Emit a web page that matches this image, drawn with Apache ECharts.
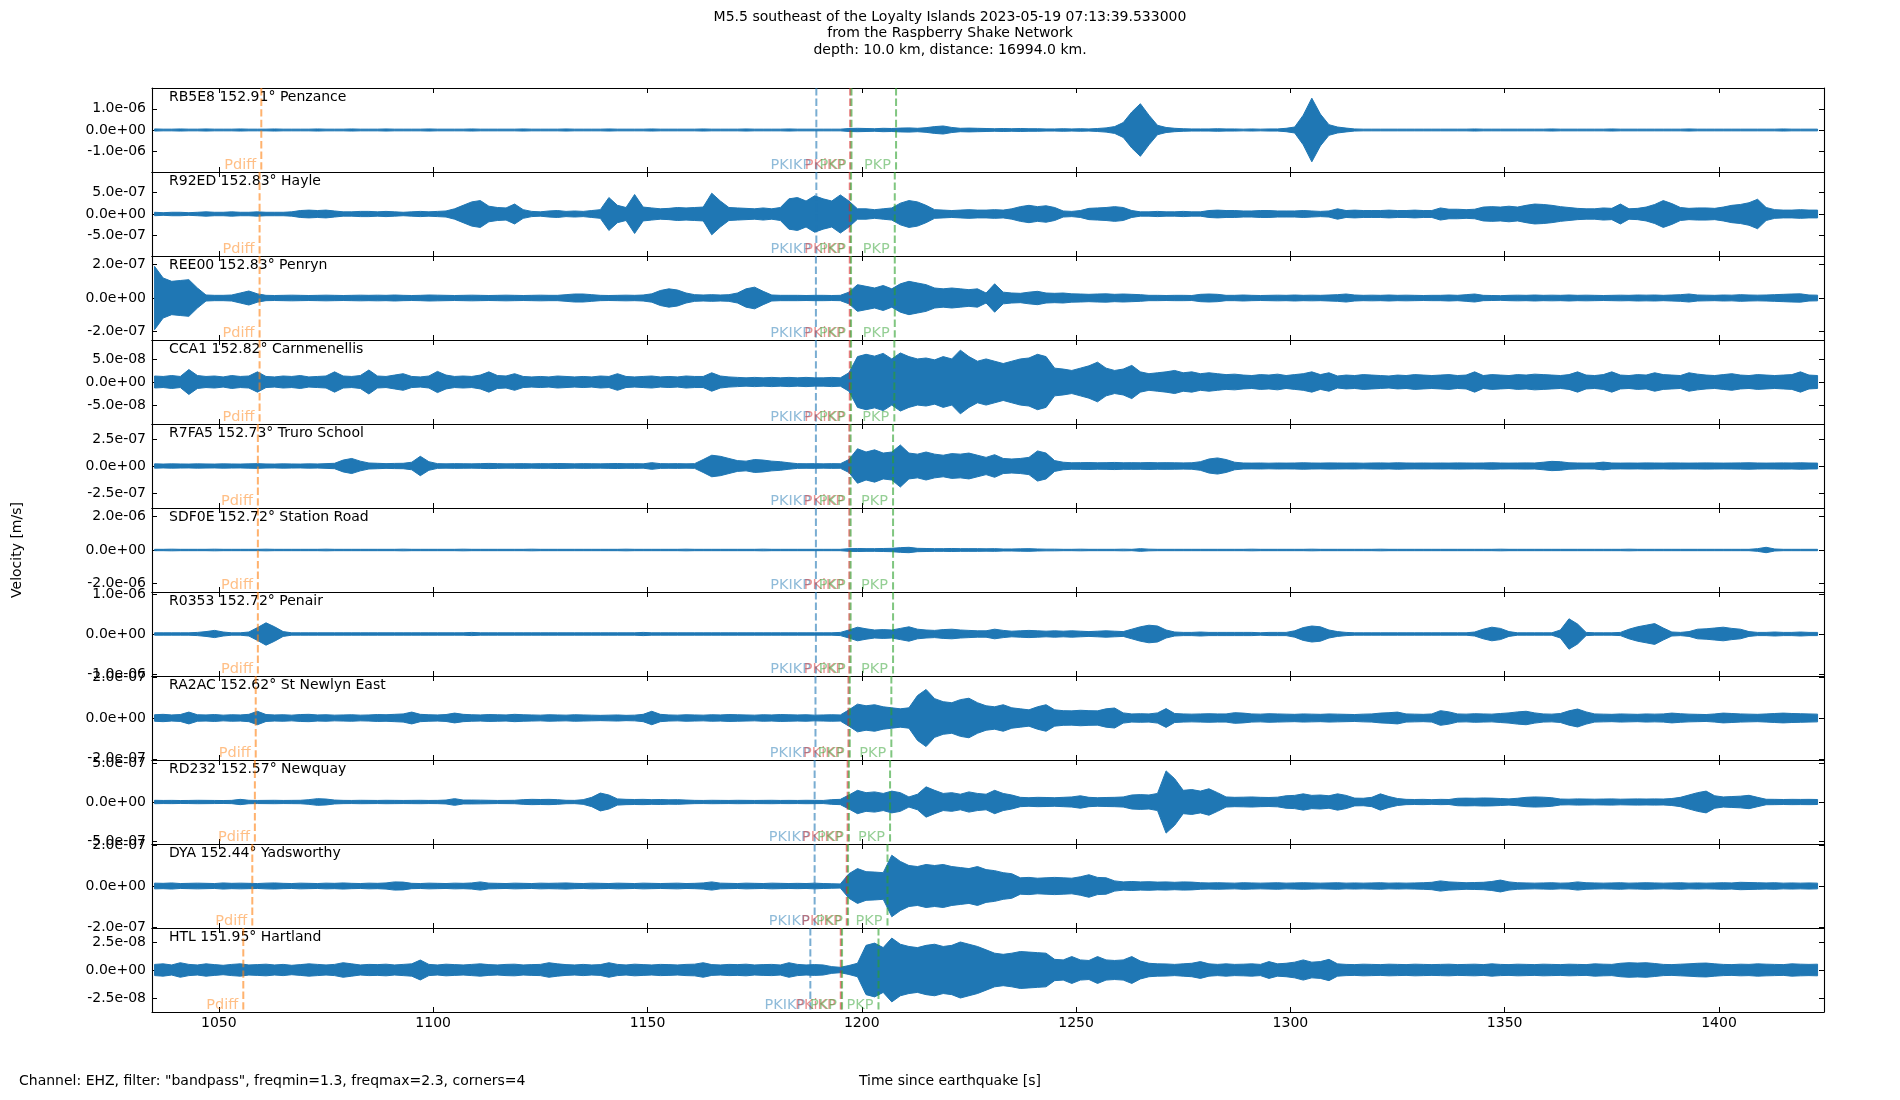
<!DOCTYPE html>
<html lang="en">
<head>
<meta charset="utf-8">
<title>M5.5 southeast of the Loyalty Islands - Raspberry Shake record section</title>
<script src="https://cdn.jsdelivr.net/npm/echarts@6/dist/echarts.min.js"></script>
<style>
  html, body { margin: 0; padding: 0; background: #fff; }
  #chart { width: 1900px; height: 1100px; }
</style>
</head>
<body>
<div id="chart"></div>
<script type="text/javascript">
  // stations, top to bottom
  const stationCodes = ['RB5E8', 'R92ED', 'REE00', 'CCA1', 'R7FA5', 'SDF0E', 'R0353', 'RA2AC', 'RD232', 'DYA', 'HTL'];
  const stationDist = [152.91, 152.83, 152.83, 152.82, 152.73, 152.72, 152.72, 152.62, 152.57, 152.44, 151.95];
  const stationNames = ['Penzance', 'Hayle', 'Penryn', 'Carnmenellis', 'Truro School', 'Station Road',
                        'Penair', 'St Newlyn East', 'Newquay', 'Yadsworthy', 'Hartland'];

  // y half-range of each panel and its tick step [m/s]
  const yLimits = [1.98e-6, 9.7e-7, 2.52e-7, 9.1e-8, 3.9e-7, 2.5e-6, 1.05e-6, 2.06e-7, 5.4e-7, 2.05e-7, 3.75e-8];
  const yTickSteps = [1e-6, 5e-7, 2e-7, 5e-8, 2.5e-7, 2e-6, 1e-6, 2e-7, 5e-7, 2e-7, 2.5e-8];

  // x axis [s since origin]
  const xMin = 1034.4, xMax = 1424.5;
  const xTicks = [1050, 1100, 1150, 1200, 1250, 1300, 1350, 1400];

  // trace envelopes (peak amplitude) read every 2 s from 1035 s, in ampUnits[k] m/s
  const sampleStart = 1035, sampleStep = 2;
  const ampUnits = [1e-8, 1e-8, 1e-9, 1e-9, 1e-9, 1e-8, 1e-8, 1e-9, 1e-9, 1e-9, 1e-10];

  const envPenzance = [
    5,4,4,5,4,4,5,4,4,4,5,4,4,4,5,4,4,4,4,5,4,4,4,5,4,          // 1035-1083
    4,4,5,4,4,4,4,5,4,4,4,4,5,4,4,4,4,4,5,4,4,4,4,5,4,          // 1085-1133
    4,4,4,5,4,4,4,4,5,4,4,4,4,4,5,4,4,4,4,5,4,4,4,4,5,          // 1135-1183
    4,4,4,4,4,4,7,8,7,6,8,7,9,10,8,11,16,19,12,8,9,8,7,6,7,     // 1185-1233
    6,7,6,6,5,5,6,5,6,5,7,10,16,35,85,124,70,22,12,8,6,5,5,5,6, // 1235-1283
    5,5,4,5,4,5,5,8,14,70,150,75,25,14,9,5,4,4,4,4,4,4,4,4,4,   // 1285-1333
    4,4,4,4,5,4,4,4,4,4,4,4,4,5,4,4,4,4,4,4,5,4,4,4,4,          // 1335-1383
    4,4,4,4,5,4,4,4,4,4,4,4,4,4,4,5,4,4,4,4                     // 1385-1423
  ];
  const envHayle = [
    4,3,4,4,3,4,5,4,4,5,4,4,5,4,4,4,5,8,9,8,9,7,5,5,6,
    6,5,6,5,4,5,6,5,6,7,12,20,28,31,18,15,14,23,10,6,5,7,8,6,7,
    6,8,10,38,20,15,45,16,14,12,13,15,14,15,16,48,30,15,14,13,12,14,12,15,35,
    38,30,42,35,30,44,30,12,12,10,12,14,25,31,28,20,10,9,8,9,10,9,9,10,9,
    12,17,20,17,19,15,7,6,8,13,14,15,17,15,8,5,5,6,5,5,6,5,5,8,9,
    8,8,7,7,8,8,7,7,7,8,7,6,7,12,8,9,8,8,8,9,8,8,9,8,8,
    14,11,11,10,11,16,17,16,18,16,20,23,22,20,17,15,13,12,12,14,13,23,12,13,16,
    22,31,24,15,13,14,14,13,16,20,22,26,34,15,10,9,9,10,9,9
  ];
  const envPenryn = [
    190,120,100,105,110,60,18,16,16,18,30,42,25,16,15,16,17,16,15,16,17,16,15,16,17,
    16,17,16,18,16,15,16,18,17,16,15,16,17,16,15,16,17,16,15,16,17,16,16,20,24,
    24,20,16,15,16,17,16,18,25,45,55,48,30,20,18,20,18,20,30,55,65,40,18,16,16,
    16,15,16,16,15,16,35,80,70,60,75,55,85,100,90,80,60,55,60,55,50,55,30,85,35,
    30,28,35,40,30,28,30,25,24,22,24,25,22,24,22,20,16,16,15,16,16,15,22,24,22,
    16,16,18,16,15,16,17,16,18,16,17,16,18,20,24,18,16,17,16,18,16,17,16,15,16,
    16,18,16,20,24,16,15,14,16,17,16,18,16,17,16,18,16,17,16,15,16,17,16,18,17,
    18,16,18,20,24,18,17,16,18,17,20,18,17,18,20,22,24,25,18,17
  ];
  const envCarnmenellis = [
    13,12,14,12,27,14,12,13,11,14,12,13,22,12,11,13,12,14,11,12,13,22,13,12,14,
    26,13,12,15,18,12,11,13,23,15,12,13,12,15,22,14,13,18,12,11,12,11,13,12,11,
    12,11,13,12,18,12,11,12,13,11,12,11,13,12,12,20,13,11,10,9,10,9,10,9,10,
    9,10,9,9,10,9,20,55,60,56,62,50,63,55,50,52,48,55,50,69,55,45,50,45,40,
    45,50,52,60,55,30,28,25,30,35,43,30,25,28,36,22,18,20,22,25,20,22,18,20,18,
    16,17,15,14,16,15,17,14,16,18,22,16,20,13,15,14,16,15,14,13,15,14,16,15,14,
    15,16,14,15,22,14,16,15,14,16,15,17,16,15,14,16,22,15,14,16,22,15,14,16,15,
    20,16,15,14,20,17,15,14,16,18,15,14,16,15,14,15,16,22,15,14
  ];
  const envTruro = [
    20,18,20,19,18,20,19,18,20,19,18,20,22,19,18,20,19,18,20,19,22,25,55,70,45,
    28,25,22,24,25,35,90,40,22,20,22,21,20,22,24,22,20,21,22,20,22,21,23,22,20,
    22,21,20,22,23,21,22,20,31,22,21,22,20,22,60,100,90,70,50,45,60,55,45,40,30,
    22,21,22,20,22,21,60,160,130,150,120,130,195,120,110,130,110,100,115,110,120,100,80,105,70,
    65,70,80,140,120,50,35,30,31,32,30,31,33,30,31,30,32,30,31,30,29,30,40,65,75,
    60,35,28,27,28,26,28,27,28,30,28,27,29,28,27,28,26,28,29,27,30,28,27,28,27,
    28,27,29,28,27,28,30,28,27,28,29,28,35,43,40,30,28,27,28,36,28,27,28,27,29,
    28,27,29,28,27,28,29,28,27,28,29,30,28,27,28,29,28,30,28,27
  ];
  const envStationRoad = [
    4,4,5,4,4,4,4,5,4,4,4,4,4,5,4,4,4,4,4,4,5,4,4,4,4,
    4,4,4,4,5,4,4,4,4,4,4,5,4,4,4,4,4,4,4,5,4,4,4,4,4,
    4,4,4,4,4,5,4,4,4,4,4,4,5,4,4,4,4,4,4,4,4,5,4,4,4,
    4,4,4,4,4,4,8,9,8,8,9,10,14,16,10,9,8,8,9,8,8,8,7,8,6,
    6,7,8,6,5,5,4,4,5,4,4,4,4,5,4,8,5,4,4,4,4,4,4,4,4,
    4,4,4,5,4,4,4,4,4,4,5,4,4,4,4,4,4,4,5,4,4,4,4,4,4,
    4,4,4,4,4,4,4,5,4,4,4,4,4,4,4,4,4,4,4,4,4,4,5,4,4,
    4,4,4,4,4,4,4,4,4,4,4,4,8,16,6,4,4,4,4,4
  ];
  const envPenair = [
    3,3,3,3,3,4,6,9,5,3,3,5,16,28,18,6,3,3,3,3,3,3,3,3,3,
    3,3,3,3,3,3,3,3,3,3,3,3,4,3,3,3,3,3,3,3,3,3,3,3,3,
    3,3,3,3,3,3,3,4,3,3,3,3,3,3,3,3,3,3,3,3,3,3,3,3,3,
    3,3,3,3,3,4,10,17,13,10,11,10,14,18,12,10,9,11,12,10,9,8,8,12,9,
    7,8,9,8,7,8,7,8,7,6,7,8,7,6,12,18,22,20,10,5,4,4,5,4,4,
    4,4,4,4,3,4,4,4,8,16,20,18,10,6,4,3,3,3,3,3,3,3,3,3,3,
    3,3,3,3,5,12,17,14,6,3,3,3,3,3,10,38,25,4,3,3,3,4,12,18,22,
    26,15,5,4,6,12,13,15,17,14,12,6,4,4,5,4,4,5,4,4
  ];
  const envStNewlyn = [
    16,18,15,17,29,16,15,17,14,16,15,18,33,17,15,16,14,17,18,15,16,14,15,16,14,
    15,17,16,18,20,29,18,16,15,17,24,18,16,15,17,16,15,18,16,15,14,16,15,14,16,
    15,14,13,14,15,13,14,18,33,18,15,14,16,15,14,16,15,17,16,15,14,16,15,17,16,
    15,16,14,15,16,15,40,68,60,65,55,50,45,50,110,140,95,80,75,90,97,75,60,55,65,
    50,45,40,55,65,40,36,35,38,36,35,45,49,25,20,21,20,25,46,22,20,19,20,21,20,
    20,26,24,20,19,21,20,19,18,20,19,18,20,19,18,17,19,20,24,26,29,20,19,18,20,
    36,30,20,19,21,20,19,22,25,30,33,25,20,19,22,35,44,30,20,19,18,20,19,18,20,
    19,20,24,21,19,18,17,20,24,22,20,19,18,20,22,24,22,21,20,19
  ];
  const envNewquay = [
    22,20,21,19,20,22,21,20,19,21,34,22,20,21,22,20,21,22,30,43,38,25,21,20,22,
    21,20,22,21,20,21,22,20,21,25,43,25,25,24,22,20,21,22,30,34,32,34,30,22,21,
    30,60,115,90,40,34,32,34,30,32,28,30,25,21,20,22,21,20,22,21,20,21,22,20,21,
    20,22,21,20,30,34,90,150,120,130,110,140,120,65,100,195,150,110,120,100,130,110,100,150,110,
    90,60,55,60,58,55,60,65,80,60,55,58,60,65,90,95,90,110,400,300,150,160,140,170,120,
    65,60,62,65,60,58,62,80,85,105,85,90,80,105,85,50,48,60,105,70,45,34,32,34,30,
    34,32,48,50,48,52,50,45,40,48,60,65,62,55,38,36,40,38,36,38,40,36,38,40,38,
    40,38,45,60,90,120,140,80,65,70,75,86,60,35,34,32,34,33,34,32
  ];
  const envYadsworthy = [
    14,13,15,12,13,14,13,12,15,13,14,13,12,14,15,13,12,14,13,12,14,13,15,13,12,
    14,13,15,20,19,13,12,14,13,12,14,13,15,20,14,13,12,14,13,12,14,13,14,15,13,
    12,14,13,12,14,13,12,14,13,12,13,14,12,13,15,20,14,13,12,14,13,12,14,13,12,
    13,12,14,12,11,10,60,85,70,68,65,150,120,100,95,105,100,105,95,90,85,95,80,75,65,
    60,40,42,38,40,42,40,38,45,55,42,40,25,20,22,20,21,19,20,18,20,19,16,15,16,
    15,14,16,15,14,15,16,14,15,16,15,14,15,16,14,15,14,15,16,14,15,14,15,16,18,
    25,20,18,16,17,18,22,29,20,16,15,14,15,16,14,15,20,16,15,14,15,16,14,15,16,
    15,14,15,16,14,15,14,15,16,15,18,17,16,15,16,14,15,14,15,14
  ];
  const envHartland = [
    50,55,45,65,50,45,55,48,42,50,55,45,48,52,45,50,42,48,55,50,45,50,65,55,45,
    50,48,52,45,50,55,89,50,45,52,48,45,50,55,48,45,50,52,45,48,50,65,55,48,45,
    50,45,48,65,50,45,52,48,45,50,48,45,50,52,65,48,45,50,48,52,45,48,50,45,65,
    50,45,48,45,30,24,40,60,220,240,200,285,230,210,200,220,230,210,220,250,230,210,180,150,140,
    150,165,160,155,150,95,90,120,90,85,120,90,85,90,120,80,60,55,54,50,55,60,75,55,50,
    55,50,52,55,50,75,55,60,70,90,70,75,95,55,50,48,52,50,48,52,50,48,52,50,48,
    50,52,48,50,52,48,55,50,48,52,50,48,52,50,48,52,50,48,55,52,50,60,65,62,65,
    58,50,48,52,55,60,62,55,50,48,52,50,55,52,50,48,55,52,50,52
  ];
  const envelopes = [envPenzance, envHayle, envPenryn, envCarnmenellis, envTruro, envStationRoad,
                     envPenair, envStNewlyn, envNewquay, envYadsworthy, envHartland];

  // predicted arrivals per station [s]
  const phaseNames = ['Pdiff', 'PKIKP', 'PKiKP', 'PKP', 'PKP'];
  const phaseColors = ['#ff7f0e', '#1f77b4', '#d62728', '#2ca02c', '#2ca02c'];
  const arrPdiff = [1059.9, 1059.5, 1059.5, 1059.5, 1059.1, 1059.1, 1059.1, 1058.6, 1058.4, 1057.8, 1055.7];
  const arrPKIKP = [1189.4, 1189.4, 1189.3, 1189.3, 1189.3, 1189.3, 1189.3, 1189.2, 1189.0, 1189.0, 1188.0];
  const arrPKiKP = [1197.3, 1197.2, 1197.2, 1197.2, 1197.1, 1197.1, 1197.1, 1196.9, 1196.7, 1196.5, 1195.1];
  const arrPKPa  = [1197.6, 1197.5, 1197.5, 1197.5, 1197.4, 1197.4, 1197.4, 1197.2, 1197.0, 1196.8, 1195.4];
  const arrPKPb  = [1208.0, 1207.7, 1207.7, 1207.6, 1207.3, 1207.3, 1207.3, 1206.9, 1206.6, 1206.0, 1203.9];
  const arrivals = [arrPdiff, arrPKIKP, arrPKiKP, arrPKPa, arrPKPb];

  // layout
  const FONT = '"DejaVu Sans", "Liberation Sans", sans-serif';
  const GRID_LEFT = 152, GRID_RIGHT = 76, GRID_TOP = 88, PANEL_H = 84;
  const TRACE_COLOR = '#1f77b4';

  // matplotlib-like %.1e labels
  function sci(v) {
      return v.toExponential(1).replace(/e([+-])(\d)$/, 'e$10$2');
  }

  const grids = [], xAxes = [], yAxes = [], series = [], graphics = [];
  const nSt = stationCodes.length;

  for (let k = 0; k < nSt; k++) {
      const top = GRID_TOP + k * PANEL_H;
      grids.push({ left: GRID_LEFT, right: GRID_RIGHT, top: top, height: PANEL_H });

      const frame = { show: true, onZero: false, lineStyle: { color: '#000', width: 1.1 } };
      const tickStyle = { show: true, inside: true, length: 5, lineStyle: { color: '#000', width: 1 } };

      ['bottom', 'top'].forEach(pos => {
          xAxes.push({
              gridIndex: k, type: 'value', position: pos, min: xMin, max: xMax,
              axisLine: frame,
              axisTick: Object.assign({ customValues: xTicks }, tickStyle),
              axisLabel: {
                  show: pos === 'bottom' && k === nSt - 1,
                  customValues: xTicks, formatter: v => String(v),
                  color: '#000', fontSize: 14, fontFamily: FONT, margin: 4
              },
              splitLine: { show: false }
          });
      });

      const R = yLimits[k], s = yTickSteps[k];
      const yVals = [-s, 0, s];
      ['left', 'right'].forEach(pos => {
          yAxes.push({
              gridIndex: k, type: 'value', position: pos, min: -R, max: R,
              axisLine: frame,
              axisTick: Object.assign({ customValues: yVals }, tickStyle),
              axisLabel: {
                  show: pos === 'left', customValues: yVals, formatter: sci,
                  color: '#000', fontSize: 14, fontFamily: FONT, margin: 6
              },
              splitLine: { show: false }
          });
      });

      // trace: filled band between -envelope and +envelope
      const env = envelopes[k], unit = ampUnits[k];
      const pts = env.map((a, i) => [sampleStart + i * sampleStep, a * unit]);
      series.push({
          type: 'custom', xAxisIndex: 2 * k, yAxisIndex: 2 * k, silent: true, clip: true,
          data: pts,
          renderItem: function (params, api) {
              if (params.dataIndex !== 0) return null;
              const upper = pts.map(p => api.coord([p[0], p[1]]));
              const lower = pts.slice().reverse().map(p => api.coord([p[0], -p[1]]));
              return {
                  type: 'polygon',
                  shape: { points: upper.concat(lower) },
                  style: { fill: TRACE_COLOR, stroke: TRACE_COLOR, lineWidth: 1 }
              };
          }
      });

      // phase arrivals: dashed line + label
      const phaseData = arrivals.map((arr, p) => [arr[k], p]);
      series.push({
          type: 'custom', xAxisIndex: 2 * k, yAxisIndex: 2 * k, silent: true,
          data: phaseData,
          renderItem: function (params, api) {
              const t = api.value(0), p = api.value(1);
              const cs = params.coordSys;
              const x = api.coord([t, 0])[0];
              const bottom = cs.y + cs.height;
              return {
                  type: 'group',
                  children: [
                      {
                          type: 'line',
                          shape: { x1: x, y1: cs.y, x2: x, y2: bottom },
                          style: { stroke: phaseColors[p], lineWidth: 2, lineDash: [7.4, 3.2], opacity: 0.6 }
                      },
                      {
                          type: 'text', x: x - 5, y: bottom + 1,
                          style: {
                              text: phaseNames[p], fill: phaseColors[p], opacity: 0.5,
                              font: '14.5px ' + FONT, align: 'right', verticalAlign: 'bottom'
                          }
                      }
                  ]
              };
          }
      });

      // station label
      graphics.push({
          type: 'text', left: GRID_LEFT + 17, top: top + 2, silent: true,
          style: {
              text: stationCodes[k] + ' ' + stationDist[k].toFixed(2) + '° ' + stationNames[k],
              fill: '#000', font: '14px ' + FONT
          }
      });
  }

  // title, axis names, footer
  const titleLines = [
      'M5.5 southeast of the Loyalty Islands 2023-05-19 07:13:39.533000',
      'from the Raspberry Shake Network',
      'depth: 10.0 km, distance: 16994.0 km.'
  ];
  titleLines.forEach((line, i) => {
      graphics.push({
          type: 'text', x: 950, y: 17 + i * 16.5, silent: true,
          style: { text: line, fill: '#000', font: '14px ' + FONT, align: 'center', verticalAlign: 'middle' }
      });
  });
  graphics.push({
      type: 'text', x: 17, y: 550, rotation: Math.PI / 2, silent: true,
      style: { text: 'Velocity [m/s]', fill: '#000', font: '14px ' + FONT, align: 'center', verticalAlign: 'middle' }
  });
  graphics.push({
      type: 'text', x: 950, y: 1081, silent: true,
      style: { text: 'Time since earthquake [s]', fill: '#000', font: '14px ' + FONT, align: 'center', verticalAlign: 'middle' }
  });
  graphics.push({
      type: 'text', x: 19, y: 1081, silent: true,
      style: { text: 'Channel: EHZ, filter: "bandpass", freqmin=1.3, freqmax=2.3, corners=4', fill: '#000', font: '14px ' + FONT, align: 'left', verticalAlign: 'middle' }
  });

  const chart = echarts.init(document.getElementById('chart'), null, { renderer: 'canvas' });
  chart.setOption({
      backgroundColor: '#fff',
      animation: false,
      textStyle: { fontFamily: FONT },
      grid: grids,
      xAxis: xAxes,
      yAxis: yAxes,
      series: series,
      graphic: graphics
  });
</script>
</body>
</html>
